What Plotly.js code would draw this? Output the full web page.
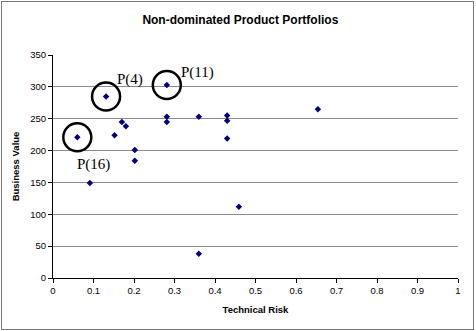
<!DOCTYPE html>
<html>
<head>
<meta charset="utf-8">
<script src="https://cdn.plot.ly/plotly-3.0.1.min.js"></script>
<style>
  html, body { margin: 0; padding: 0; background: #fff; }
  #wrap { position: relative; width: 476px; height: 331px; }
  #chart { width: 476px; height: 331px; }
  #frame { position: absolute; left: 1px; top: 1px; width: 471px; height: 327px;
           border: 1.5px solid #7a7a7a; pointer-events: none; }
</style>
</head>
<body>
<div id="wrap">
  <div id="chart"></div>
  <div id="frame"></div>
</div>
<script>
// Portfolio risk / value pairs
const technicalRisk = [0.060, 0.131, 0.281, 0.091, 0.152, 0.170, 0.180, 0.202, 0.202,
                       0.281, 0.281, 0.360, 0.360, 0.430, 0.430, 0.430, 0.459, 0.654];
const businessValue = [221, 285, 303, 149, 224, 245, 238, 201, 184,
                       253, 245, 253, 38, 255, 247, 219, 112, 265];

// Highlighted portfolios
const highlightNames = ['P(16)', 'P(4)', 'P(11)'];
const highlightRisk  = [0.060, 0.131, 0.281];
const highlightValue = [221, 285, 303];

const yTicks = [0, 50, 100, 150, 200, 250, 300, 350];
const xTicks = [0, 0.1, 0.2, 0.3, 0.4, 0.5, 0.6, 0.7, 0.8, 0.9, 1];

const trace = {
  type: 'scatter',
  mode: 'markers',
  x: technicalRisk,
  y: businessValue,
  marker: { symbol: 'diamond', size: 5, color: '#000080' },
  hoverinfo: 'x+y'
};

// Rings around highlighted points, fixed pixel radius
const shapes = highlightRisk.map((xv, i) => ({
  type: 'circle',
  xref: 'x', yref: 'y',
  xsizemode: 'pixel', ysizemode: 'pixel',
  xanchor: xv, yanchor: highlightValue[i],
  x0: -14, x1: 14, y0: -14, y1: 14,
  line: { color: '#000', width: 2.5 }
}));

// Label offsets (pixels) relative to each highlighted point
const labelDx = [16, 24, 31];
const labelDy = [27, -17, -12];
const annotations = highlightNames.map((name, i) => ({
  x: highlightRisk[i], y: highlightValue[i], xref: 'x', yref: 'y',
  text: name, showarrow: false,
  xshift: labelDx[i], yshift: -labelDy[i],
  font: { family: 'Liberation Serif, Times New Roman, serif', size: 15, color: '#000' }
}));

const layout = {
  width: 476, height: 331,
  margin: { l: 53.3, r: 17.7, t: 54.7, b: 52.7 },
  paper_bgcolor: '#fff', plot_bgcolor: '#fff',
  showlegend: false,
  title: {
    text: '<b>Non-dominated Product Portfolios</b>',
    x: 0.505, xanchor: 'center', y: 0.94, yanchor: 'middle',
    font: { family: 'Liberation Sans, Arial, sans-serif', size: 12, color: '#000' }
  },
  xaxis: {
    range: [0, 1], tickvals: xTicks, ticktext: xTicks.map(String),
    showgrid: false, zeroline: false,
    showline: true, linecolor: '#000', linewidth: 1,
    ticks: 'outside', ticklen: 4, tickcolor: '#000',
    tickfont: { family: 'Liberation Sans, Arial, sans-serif', size: 9.5, color: '#000' },
    title: { text: '<b>Technical Risk</b>', standoff: 10,
             font: { family: 'Liberation Sans, Arial, sans-serif', size: 9.5, color: '#000' } }
  },
  yaxis: {
    range: [0, 350], tickvals: yTicks,
    showgrid: true, gridcolor: '#8c8c8c', gridwidth: 1,
    zeroline: false,
    showline: true, linecolor: '#000', linewidth: 1,
    ticks: 'outside', ticklen: 4, tickcolor: '#000',
    tickfont: { family: 'Liberation Sans, Arial, sans-serif', size: 9.5, color: '#000' },
    title: { text: '<b>Business Value</b>', standoff: 8,
             font: { family: 'Liberation Sans, Arial, sans-serif', size: 9.5, color: '#000' } }
  },
  shapes: shapes,
  annotations: annotations
};

Plotly.newPlot('chart', [trace], layout, { staticPlot: true, displayModeBar: false });
</script>
</body>
</html>
